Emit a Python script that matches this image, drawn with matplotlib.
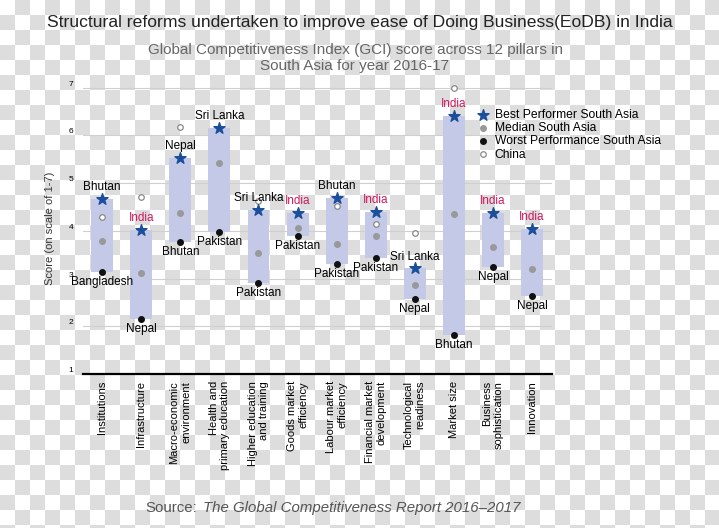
import numpy as np
import matplotlib
matplotlib.use("Agg")
import matplotlib.pyplot as plt

plt.rcParams["font.family"] = ["Liberation Sans", "DejaVu Sans"]

# GCI 2016-17 pillar scores
pillars = [
    "Institutions",
    "Infrastructure",
    "Macro-economic\nenvironment",
    "Health and\nprimary education",
    "Higher education\nand training",
    "Goods market\nefficiency",
    "Labour market\nefficiency",
    "Financial market\ndevelopment",
    "Technological\nreadiness",
    "Market size",
    "Business\nsophistication",
    "Innovation",
]
best = [4.67, 4.02, 5.53, 6.16, 4.44, 4.38, 4.69, 4.40, 3.22, 6.41, 4.38, 4.04]
median = [3.79, 3.12, 4.38, 5.42, 3.54, 4.06, 3.73, 3.89, 2.87, 4.35, 3.66, 3.20]
worst = [3.14, 2.15, 3.77, 3.98, 2.91, 3.89, 3.31, 3.43, 2.57, 1.82, 3.24, 2.64]
china = [4.29, 4.71, 6.18, np.nan, 4.63, np.nan, 4.52, 4.15, 3.96, 7.00, np.nan, np.nan]
best_names = ["Bhutan", "India", "Nepal", "Sri Lanka", "Sri Lanka", "India",
              "Bhutan", "India", "Sri Lanka", "India", "India", "India"]
worst_names = ["Bangladesh", "Nepal", "Bhutan", "Pakistan", "Pakistan", "Pakistan",
               "Pakistan", "Pakistan", "Nepal", "Bhutan", "Nepal", "Nepal"]

W, H = 719, 528
fig = plt.figure(figsize=(W / 100, H / 100), dpi=100)

# checkered (transparent-look) background as in the reference
cell = 15
yy, xx = np.mgrid[0:H, 0:W]
checker = ((xx // cell + yy // cell) % 2).astype(float)
bg = np.where(checker[..., None] == 1, 0.87, 1.0) * np.ones((H, W, 3))
fig.figimage(bg, xo=0, yo=0, zorder=-10)
fig.patch.set_alpha(0)

ax = fig.add_axes([83 / W, 1 - 374 / H, (552 - 83) / W, (374 - 82) / H])
ax.patch.set_alpha(0)

x = np.arange(len(pillars))
best_a = np.array(best)
worst_a = np.array(worst)

ax.bar(x, best_a - worst_a, bottom=worst_a, width=0.56, color="#c3c9e6", zorder=2)
h_china = ax.scatter(x, china, s=16, facecolor="white", edgecolor="#888888",
                     linewidth=0.9, zorder=3, label="China")
h_med = ax.scatter(x, median, s=16, color="#999999", zorder=4, label="Median South Asia")
h_worst = ax.scatter(x, worst, s=16, color="#111111", zorder=5,
                     label="Worst Performance South Asia")
h_best = ax.scatter(x, best, s=70, marker="*", color="#1b4f9c", zorder=6,
                    label="Best Performer South Asia")

for i in range(len(pillars)):
    col = "#d0185c" if best_names[i] == "India" else "black"
    ax.annotate(best_names[i], (x[i], best[i]), xytext=(0, 4), textcoords="offset points",
                ha="center", va="bottom", fontsize=8.5, color=col, zorder=7)
    ax.annotate(worst_names[i], (x[i], worst[i]), xytext=(0, -3), textcoords="offset points",
                ha="center", va="top", fontsize=8.5, color="black", zorder=7)

ax.set_xlim(-0.49, 11.51)
ax.set_ylim(1, 7.12)
ax.set_yticks(range(1, 8))
ax.set_yticklabels([str(v) for v in range(1, 8)], fontsize=6, va="bottom")
ax.yaxis.grid(True, color="#cfcfcf", linewidth=0.8, zorder=0)
ax.set_axisbelow(True)
ax.tick_params(axis="y", length=0, pad=7)
ax.tick_params(axis="x", length=0, pad=5)
ax.set_xticks(x)
ax.set_xticklabels(pillars, rotation=90, fontsize=8, va="top", ha="center",
                   multialignment="right")
for side in ["left", "right", "top"]:
    ax.spines[side].set_visible(False)
ax.spines["bottom"].set_linewidth(1.6)
ax.spines["bottom"].set_color("black")
ax.set_ylabel("Score (on scale of 1-7)", fontsize=8, color="#333333", labelpad=10)

ax.legend(handles=[h_best, h_med, h_worst, h_china], loc="upper left",
          bbox_to_anchor=(476 / W, 1 - 109 / H), bbox_transform=fig.transFigure,
          frameon=False, fontsize=8.7, labelspacing=0.1, handletextpad=0.35,
          handlelength=1.2, borderpad=0, borderaxespad=0)

fig.text(0.5, 1 - 22 / H, "Structural reforms undertaken to improve ease of Doing Business(EoDB) in India",
         ha="center", va="center", fontsize=12.6, color="#222222")
fig.text(355 / W, 1 - 58 / H, "Global Competitiveness Index (GCI) score across 12 pillars in\nSouth Asia for year 2016-17",
         ha="center", va="center", fontsize=11, color="#666666", linespacing=1.2)
fig.text(145 / W, 1 - 508 / H, "Source:", ha="left", va="center", fontsize=10.8, color="#555555")
fig.text(203 / W, 1 - 508 / H, "The Global Competitiveness Report 2016\u20132017",
         ha="left", va="center", fontsize=10.8, color="#555555", style="italic")

fig.savefig("out.png", dpi=100)
